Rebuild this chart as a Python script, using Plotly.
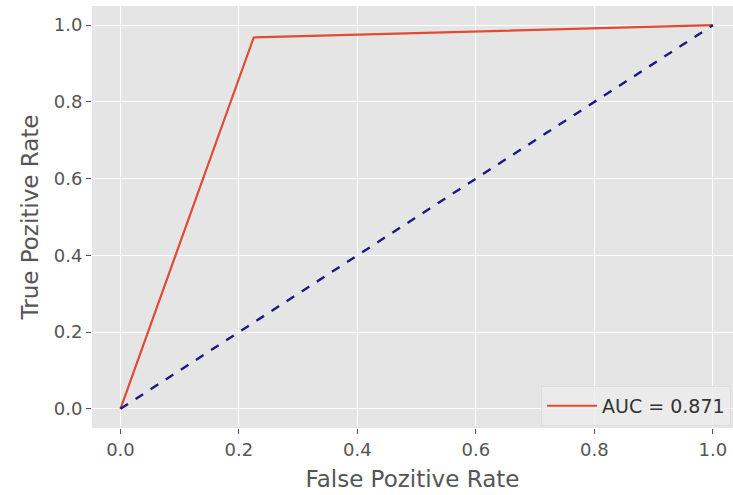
import plotly.graph_objects as go

fpr = [0.0, 0.225, 1.0]
tpr = [0.0, 0.968, 1.0]
diag_x = [0.0, 1.0]
diag_y = [0.0, 1.0]
auc_label = "AUC = 0.871"
tick_vals = [0.0, 0.2, 0.4, 0.6, 0.8, 1.0]
tick_text = ["0.0", "0.2", "0.4", "0.6", "0.8", "1.0"]

fig = go.Figure()
fig.add_trace(go.Scatter(x=fpr, y=tpr, mode="lines", name=auc_label,
                         line=dict(color="#E24A33", width=2.2)))
fig.add_trace(go.Scatter(x=diag_x, y=diag_y, mode="lines", showlegend=False,
                         line=dict(color="#1A1A80", width=2.4, dash="dash")))

font = "DejaVu Sans"
axis_common = dict(
    showgrid=True, gridcolor="white", gridwidth=1.3,
    zeroline=False, showline=False, automargin=False,
    ticks="outside", ticklen=5, tickwidth=1.2, tickcolor="#555555",
    tickfont=dict(family=font, size=18, color="#555555"),
    tickvals=tick_vals, ticktext=tick_text,
)

fig.update_layout(
    width=733, height=495,
    margin=dict(l=92, r=0, t=6, b=67, autoexpand=False),
    paper_bgcolor="white", plot_bgcolor="#E5E5E5",
    font=dict(family=font, color="#555555"),
    xaxis=dict(range=[-0.048, 1.034],
               title=dict(text="False Pozitive Rate", font=dict(family=font, size=23, color="#555555"), standoff=12),
               **axis_common),
    yaxis=dict(range=[-0.05, 1.05],
               title=dict(text="True Pozitive Rate", font=dict(family=font, size=23, color="#555555"), standoff=8),
               **axis_common),
    legend=dict(x=0.997, y=0.005, xanchor="right", yanchor="bottom",
                bgcolor="rgba(236,236,236,0.8)", bordercolor="#DDDDDD", borderwidth=1,
                itemwidth=50,
                font=dict(family=font, size=19, color="#333333")),
    showlegend=True,
)

fig.write_html("out.html", config={"displayModeBar": False},
               post_script="document.body.style.margin='0';document.body.style.overflow='hidden';")
